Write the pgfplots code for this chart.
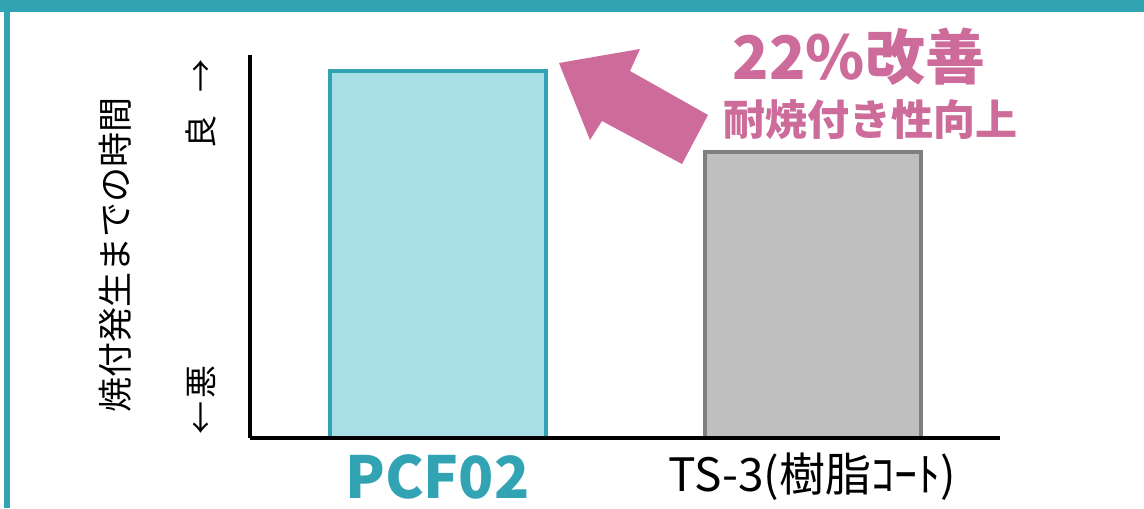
\documentclass[border=0pt]{standalone}
\usepackage{fontspec}
\setmainfont{Noto Sans CJK JP}
\usepackage{pgfplots}
\pgfplotsset{compat=1.18}
\definecolor{frameteal}{RGB}{49,163,179}
\definecolor{barcyan}{RGB}{168,223,231}
\definecolor{pinkc}{RGB}{205,107,155}
\definecolor{greyfill}{RGB}{191,191,191}
\definecolor{greyline}{RGB}{127,127,127}
\begin{document}
\begin{tikzpicture}
\begin{scope}[x=0.5pt,y=0.5pt]
\path[use as bounding box] (0,0) rectangle (1144,508);
\fill[white] (0,0) rectangle (1144,508);
\fill[frameteal] (0,496) rectangle (1144,508);
\fill[frameteal] (4,0) rectangle (10,508);
\end{scope}
\begin{axis}[
  at={(125pt,35pt)}, anchor=south west,
  scale only axis, width=375pt, height=191.5pt,
  xmin=-0.5, xmax=1.5, ymin=0, ymax=104.4,
  axis lines=left,
  axis line style={-, line width=2.25pt, black},
  xtick={0,1},
  xticklabels={{\fontsize{29}{32}\selectfont\bfseries\color{frameteal}PCF02},{\fontsize{23}{26}\selectfont TS-3(樹脂ｺｰﾄ)}},
  xticklabel style={anchor=center, yshift=-19.5pt},
  ytick=\empty,
  major tick length=0pt,
  clip=false,
  axis on top,
  ybar, bar width=108pt,
]
\addplot[fill=barcyan, draw=frameteal, line width=2pt, bar shift=0pt] coordinates {(0,100)};
\addplot[fill=greyfill, draw=greyline, line width=2pt, bar shift=0pt] coordinates {(1,78)};
\end{axis}
\begin{scope}[x=0.5pt,y=0.5pt]
\fill[pinkc] (559,445) -- (640,459) -- (630,437) -- (708,393) -- (682,344) -- (602,387) -- (590,368) -- cycle;
\node[text=pinkc, font=\fontsize{30}{34}\selectfont\bfseries] at (859,451) {22\%改善};
\node[text=pinkc, font=\fontsize{21}{24}\selectfont\bfseries] at (870,388) {耐焼付き性向上};
\node[rotate=90, font=\fontsize{17.5}{20}\selectfont] at (115,253) {焼付発生までの時間};
\node[rotate=90, font=\fontsize{16.5}{18}\selectfont] at (201,404) {良\hspace{0.7em}→};
\node[rotate=90, font=\fontsize{16.5}{18}\selectfont] at (201,108) {←\hspace{0.1em}悪};
\end{scope}
\end{tikzpicture}
\end{document}
